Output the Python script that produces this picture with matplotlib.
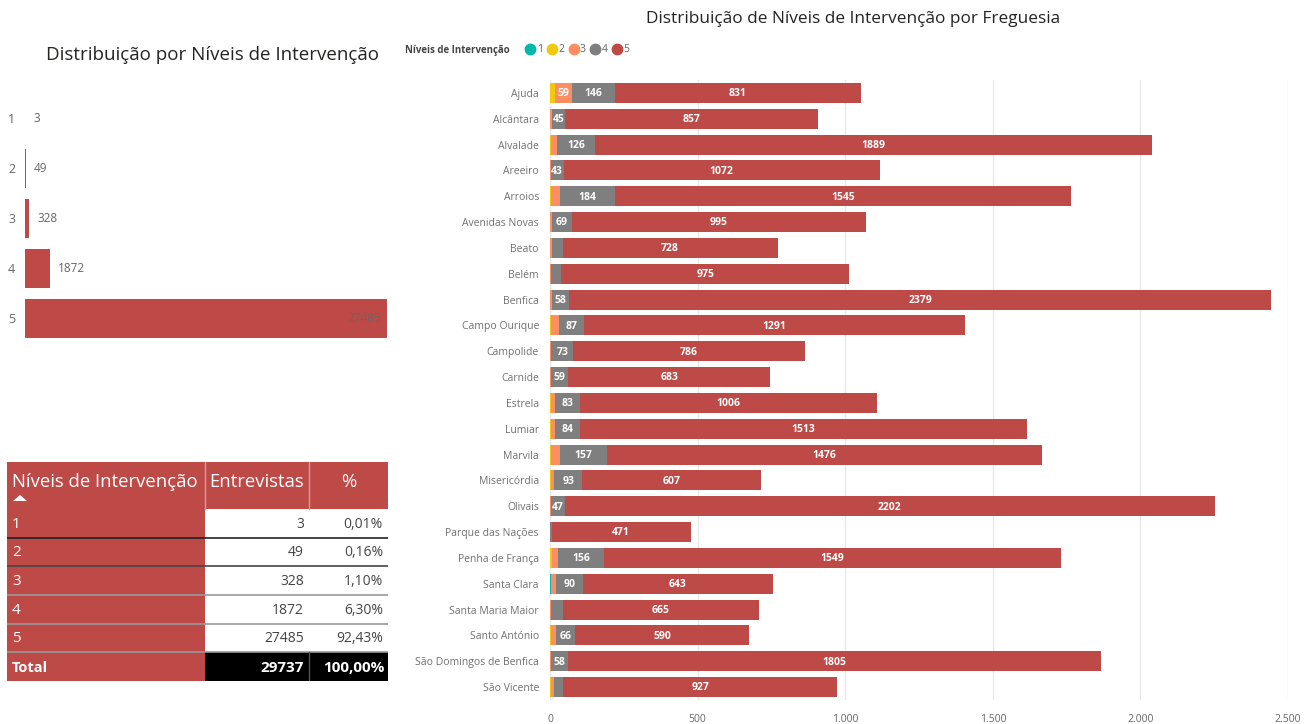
import matplotlib
matplotlib.use("Agg")
import matplotlib.pyplot as plt
from matplotlib.lines import Line2D
from matplotlib.patches import Rectangle
from matplotlib.ticker import FuncFormatter
import numpy as np

plt.rcParams['font.family'] = ['Open Sans', 'DejaVu Sans']

# ---------------- data ----------------
freguesias = ["Ajuda", "Alcântara", "Alvalade", "Areeiro", "Arroios", "Avenidas Novas",
              "Beato", "Belém", "Benfica", "Campo Ourique", "Campolide", "Carnide",
              "Estrela", "Lumiar", "Marvila", "Misericórdia", "Olivais", "Parque das Nações",
              "Penha de França", "Santa Clara", "Santa Maria Maior", "Santo António",
              "São Domingos de Benfica", "São Vicente"]
nivel1 = [0, 0, 0, 0, 0, 0, 0, 0, 0, 0, 0, 0, 0, 0, 0, 0, 0, 0, 1, 2, 0, 0, 0, 0]
nivel2 = [16, 0, 3, 0, 3, 1, 1, 1, 1, 2, 0, 0, 2, 2, 3, 2, 0, 0, 7, 1, 0, 2, 0, 2]
nivel3 = [59, 6, 22, 3, 32, 5, 7, 4, 6, 27, 5, 3, 16, 16, 32, 13, 3, 0, 19, 19, 2, 17, 2, 10]
nivel4 = [146, 45, 126, 43, 184, 69, 35, 33, 58, 87, 73, 59, 83, 84, 157, 93, 47, 6, 156, 90, 41, 66, 58, 33]
nivel5 = [831, 857, 1889, 1072, 1545, 995, 728, 975, 2379, 1291, 786, 683, 1006, 1513, 1476, 607,
          2202, 471, 1549, 643, 665, 590, 1805, 927]

niveis = ["1", "2", "3", "4", "5"]
entrevistas = [3, 49, 328, 1872, 27485]
percent_labels = ["0,01%", "0,16%", "1,10%", "6,30%", "92,43%"]
total_entrevistas = "29737"
total_percent = "100,00%"

cores = ["#01B8AA", "#F2C80F", "#FD8D62", "#7F7F7F", "#BE4A47"]
red = "#BE4A47"
grey_text = "#666666"

W, H = 1304, 724
fig = plt.figure(figsize=(W / 100, H / 100), dpi=100)

def fx(px):
    return px / W

def fy(py):
    return 1 - py / H

# ---------------- right stacked bar chart ----------------
ax = fig.add_axes([fx(550), fy(700), fx(1288) - fx(550), fy(80) - fy(700)])
series = [nivel1, nivel2, nivel3, nivel4, nivel5]
y = np.arange(len(freguesias))
left = np.zeros(len(freguesias))
for vals, c in zip(series, cores):
    vals = np.array(vals, dtype=float)
    ax.barh(y, vals, left=left, height=0.78, color=c, edgecolor="none", zorder=3)
    for yi, (l, v) in enumerate(zip(left, vals)):
        if v >= 42:
            ax.text(l + v / 2, yi + 0.03, f"{int(v)}", ha="center", va="center", color="white",
                    fontsize=7.5, fontweight="bold", zorder=4)
    left += vals

ax.set_ylim(len(freguesias) - 0.5, -0.5)
ax.set_xlim(0, 2500)
ax.set_yticks(y)
ax.set_yticklabels(freguesias, fontsize=7.5, color="#707070")
ax.set_xticks([0, 500, 1000, 1500, 2000, 2500])
ax.xaxis.set_major_formatter(FuncFormatter(lambda v, p: f"{int(v):,}".replace(",", ".")))
ax.tick_params(axis="x", labelsize=7.5, colors=grey_text, length=0, pad=10)
ax.tick_params(axis="y", length=0, pad=8)
ax.grid(axis="x", color="#E8E8E8", linewidth=1, zorder=0)
for s in ["top", "right", "bottom"]:
    ax.spines[s].set_visible(False)
ax.spines["left"].set_color("#E8E8E8")

fig.text(fx(853), fy(19), "Distribuição de Níveis de Intervenção por Freguesia",
         ha="center", va="center", fontsize=12.4, color="#252423")

fig.text(fx(405), fy(50), "Níveis de Intervenção", ha="left", va="center",
         fontsize=7, color="#444444", fontweight="bold")
handles = [Line2D([], [], linestyle="none", marker="o", markersize=7.5,
                  markerfacecolor=c, markeredgecolor=c) for c in cores]
fig.legend(handles, niveis, loc="center left", bbox_to_anchor=(fx(519), fy(50)),
           ncol=5, frameon=False, fontsize=7.5, handletextpad=0.0, columnspacing=0.3,
           borderpad=0, handlelength=1.2, labelcolor=grey_text)

# ---------------- left bar chart ----------------
ax2 = fig.add_axes([fx(25), fy(343), fx(387) - fx(25), fy(93) - fy(343)])
y2 = np.arange(len(niveis))
ax2.barh(y2, entrevistas, height=0.78, color=red, edgecolor="none")
ax2.set_xlim(0, max(entrevistas))
ax2.set_ylim(len(niveis) - 0.5, -0.5)
ax2.set_yticks(y2)
ax2.set_yticklabels(niveis, fontsize=9, color=grey_text)
ax2.tick_params(axis="y", length=0, pad=7)
ax2.set_xticks([])
for s in ax2.spines.values():
    s.set_visible(False)
for yi, v in enumerate(entrevistas):
    if v == max(entrevistas):
        ax2.annotate(f"{v}", (v, yi), xytext=(-4, 0), textcoords="offset points",
                     ha="right", va="center", fontsize=8.5, color=grey_text)
    else:
        ax2.annotate(f"{v}", (v, yi), xytext=(6, 0), textcoords="offset points",
                     ha="left", va="center", fontsize=8.5, color=grey_text)

fig.text(fx(213), fy(55), "Distribuição por Níveis de Intervenção", ha="center", va="center",
         fontsize=13.5, color="#252423")

# ---------------- table ----------------
tx0, ty0, tx1, ty1 = 7, 462, 388, 681
axt = fig.add_axes([fx(tx0), fy(ty1), fx(tx1) - fx(tx0), fy(ty0) - fy(ty1)])
axt.set_xlim(tx0, tx1)
axt.set_ylim(ty1, ty0)
axt.axis("off")

col_x = [7, 205, 309, 388]
header_h = 47
row_h = (ty1 - ty0 - header_h) / (len(niveis) + 1)

# header
for ci in range(3):
    axt.add_patch(Rectangle((col_x[ci], ty0), col_x[ci + 1] - col_x[ci], header_h,
                            facecolor=red, edgecolor="none"))
axt.plot([col_x[1], col_x[1]], [ty0, ty0 + header_h], color="#D99A98", lw=1)
axt.plot([col_x[2], col_x[2]], [ty0, ty0 + header_h], color="#D99A98", lw=1)
axt.text(col_x[0] + 5, ty0 + 20, "Níveis de Intervenção", ha="left", va="center",
         color="white", fontsize=13.3)
axt.text(col_x[1] + 52, ty0 + 20, "Entrevistas", ha="center", va="center",
         color="white", fontsize=13.3)
axt.text(col_x[2] + 40, ty0 + 20, "%", ha="center", va="center",
         color="white", fontsize=13.3)
axt.add_patch(plt.Polygon([[13, ty0 + 39], [20, ty0 + 33], [27, ty0 + 39]],
                          closed=True, facecolor="white", edgecolor="none"))

# data rows
sep_colors = ["#222222", "#444444", "#999999", "#999999", "#999999"]
for ri, (nv, ent, pc) in enumerate(zip(niveis, entrevistas, percent_labels)):
    top = ty0 + header_h + ri * row_h
    axt.add_patch(Rectangle((col_x[0], top), col_x[1] - col_x[0], row_h,
                            facecolor=red, edgecolor="none"))
    axt.add_patch(Rectangle((col_x[1], top), col_x[3] - col_x[1], row_h,
                            facecolor="white", edgecolor="none"))
    axt.text(col_x[0] + 5, top + row_h / 2 + 1, nv, ha="left", va="center",
             color="white", fontsize=11)
    axt.text(col_x[2] - 5, top + row_h / 2 + 1, f"{ent}", ha="right", va="center",
             color="#444444", fontsize=10)
    axt.text(col_x[3] - 5, top + row_h / 2 + 1, pc, ha="right", va="center",
             color="#444444", fontsize=10)
    if ri > 0:
        axt.plot([col_x[0], col_x[3]], [top, top], color=sep_colors[ri - 1], lw=1.2)

# total row
top = ty0 + header_h + len(niveis) * row_h
axt.plot([col_x[0], col_x[3]], [top, top], color="#999999", lw=1.2)
axt.add_patch(Rectangle((col_x[0], top), col_x[1] - col_x[0], row_h,
                        facecolor=red, edgecolor="none"))
axt.add_patch(Rectangle((col_x[1], top), col_x[3] - col_x[1], row_h,
                        facecolor="black", edgecolor="none"))
axt.plot([col_x[2], col_x[2]], [top, top + row_h], color="#555555", lw=1)
axt.text(col_x[0] + 5, top + row_h / 2 + 1, "Total", ha="left", va="center",
         color="white", fontsize=10.5, fontweight="bold")
axt.text(col_x[2] - 5, top + row_h / 2 + 1, total_entrevistas, ha="right", va="center",
         color="white", fontsize=11, fontweight="bold")
axt.text(col_x[3] - 4, top + row_h / 2 + 1, total_percent, ha="right", va="center",
         color="white", fontsize=11, fontweight="bold")

fig.savefig("out.png", dpi=100, facecolor="white")
